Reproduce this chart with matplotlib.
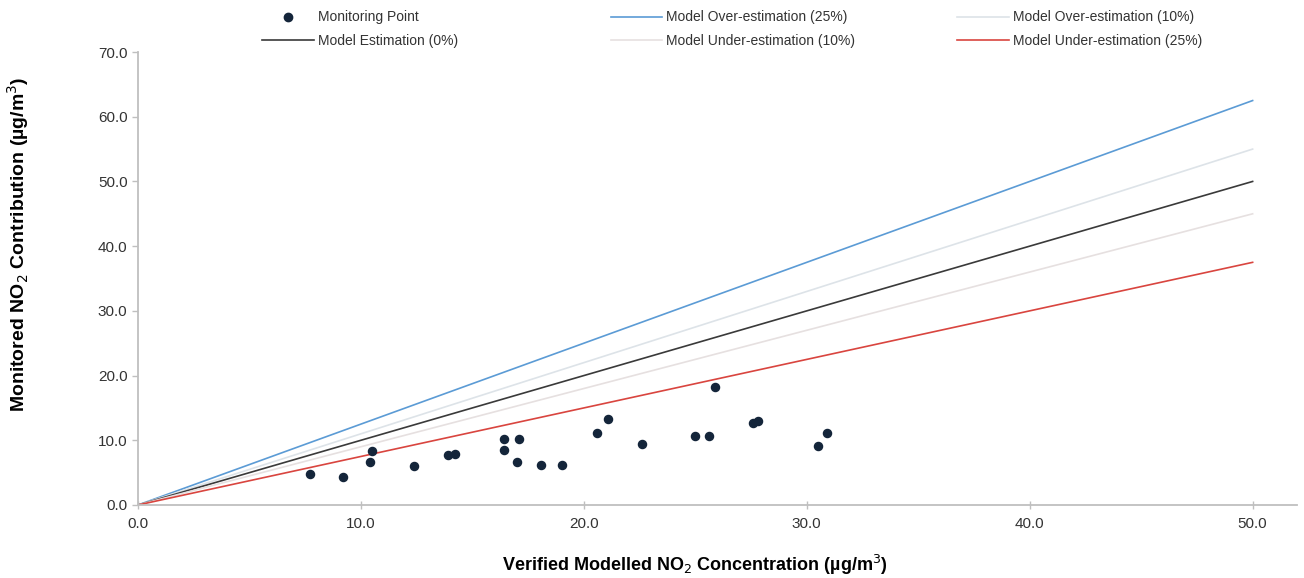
import numpy as np
import matplotlib.pyplot as plt
from matplotlib.lines import Line2D

plt.rcParams['font.family'] = ['Liberation Sans', 'DejaVu Sans']

# data ---------------------------------------------------------
modelled  = [7.7, 9.2, 10.4, 10.5, 12.4, 13.9, 14.2, 16.4, 16.4, 17.0, 17.1,
             18.1, 19.0, 20.6, 21.1, 22.6, 25.0, 25.6, 25.9, 27.6, 27.8, 30.5, 30.9]
monitored = [4.8, 4.3, 6.7, 8.3, 6.0, 7.7, 7.9, 8.5, 10.2, 6.7, 10.2,
             6.2, 6.2, 11.1, 13.3, 9.5, 10.7, 10.7, 18.2, 12.7, 13.0, 9.1, 11.2]
line_x   = [0.0, 50.0]
factors  = [1.25, 1.10, 1.00, 0.90, 0.75]
labels   = ["Model Over-estimation (25%)", "Model Over-estimation (10%)",
            "Model Estimation (0%)", "Model Under-estimation (10%)",
            "Model Under-estimation (25%)"]
colors   = ["#5b9bd5", "#dde3e8", "#3a3a3a", "#e6e0e0", "#d9453f"]
xticks = np.arange(0, 51, 10)
yticks = np.arange(0, 71, 10)

fig = plt.figure(figsize=(13.04, 5.78), dpi=100)
ax = fig.add_axes([0.1058, 0.1263, 0.889, 0.7837])

handles = {}
for f, lab, c in zip(factors, labels, colors):
    h, = ax.plot(line_x, [v * f for v in line_x], color=c, lw=1.2, label=lab, zorder=2)
    handles[lab] = h
sc = ax.scatter(modelled, monitored, s=34, color="#14253a", zorder=3,
                label="Monitoring Point")

ax.set_xlim(0, 52)
ax.set_ylim(0, 70)
ax.set_xticks(xticks)
ax.set_yticks(yticks)
ax.set_xticklabels([f"{v:.1f}" for v in xticks])
ax.set_yticklabels([f"{v:.1f}" for v in yticks])
for s in ["top", "right"]:
    ax.spines[s].set_visible(False)
for s in ["left", "bottom"]:
    ax.spines[s].set_color("#bfbfbf")
    ax.spines[s].set_linewidth(1.3)
ax.tick_params(axis="both", colors="#bfbfbf", labelcolor="#333333",
               labelsize=11, length=4, width=1)
ax.tick_params(axis="x", direction="inout", length=6, pad=6)

ax.set_xlabel("Verified Modelled NO$_2$ Concentration (µg/m$^3$)",
              fontsize=13, fontweight="bold")
ax.set_ylabel("Monitored NO$_2$ Contribution (µg/m$^3$)",
              fontsize=14, fontweight="bold")
ax.xaxis.set_label_coords(0.48, -0.105)
ax.yaxis.set_label_coords(-0.092, 0.576)

# legend: three columns placed separately ----------------------
pt_handle = Line2D([], [], marker="o", ls="none", color="#14253a", markersize=6)
cols = [
    ([pt_handle, handles[labels[2]]], ["Monitoring Point", labels[2]], 0.197),
    ([handles[labels[0]], handles[labels[3]]], [labels[0], labels[3]], 0.464),
    ([handles[labels[1]], handles[labels[4]]], [labels[1], labels[4]], 0.730),
]
for hs, ls, x0 in cols:
    leg = fig.legend(hs, ls, loc="upper left", bbox_to_anchor=(x0, 0.9915),
                     frameon=False, fontsize=10, handlelength=3.7,
                     handletextpad=0.3, labelspacing=0.68, borderaxespad=0)
    for t in leg.get_texts():
        t.set_color("#333333")

fig.savefig("out.png", dpi=100)
